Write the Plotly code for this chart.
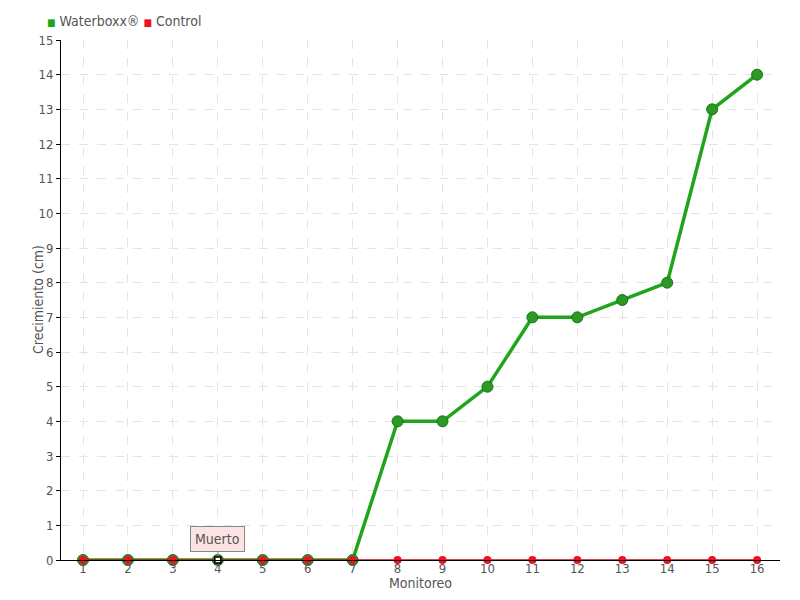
import plotly.graph_objects as go

monitoreo = list(range(1, 17))
waterboxx = [0, 0, 0, 0, 0, 0, 0, 4, 4, 5, 7, 7, 7.5, 8, 13, 14]
control = [0] * 16
y_ticks = list(range(0, 16))

FONT = "DejaVu Sans Condensed, Liberation Sans Narrow, sans-serif"
GRAY = "#555555"
GREEN = "#1fa51a"
RED = "#ee1122"

fig = go.Figure()
fig.add_trace(go.Scatter(
    x=monitoreo, y=waterboxx, mode="lines+markers", name="Waterboxx®",
    line=dict(color=GREEN, width=3.5),
    marker=dict(color="#2a9a24", size=11, line=dict(color="#1d6e1a", width=1)),
    cliponaxis=False, showlegend=False))
fig.add_trace(go.Scatter(
    x=monitoreo, y=control, mode="lines+markers", name="Control",
    line=dict(color="#c8081c", width=1.5),
    marker=dict(color=RED, size=8),
    cliponaxis=False, showlegend=False))
# marker for the "Muerto" point
fig.add_trace(go.Scatter(
    x=[monitoreo[3]], y=[control[3]], mode="markers",
    marker=dict(color="white", size=6, symbol="square", line=dict(color="black", width=1.5)),
    cliponaxis=False, showlegend=False, hoverinfo="skip"))

fig.add_annotation(x=monitoreo[3], y=control[3], text="Muerto", showarrow=True,
                   ax=0, ay=-21, arrowhead=0, arrowwidth=1, arrowcolor="#888888",
                   standoff=4, bgcolor="#fde4e4", bordercolor="#888888", borderwidth=1,
                   borderpad=4, font=dict(family=FONT, size=14, color=GRAY))

# legend as text
fig.add_annotation(xref="paper", yref="paper", x=-0.022, y=1.0, xanchor="left", yanchor="middle",
                   yshift=19, showarrow=False, align="left",
                   text=f"<span style='color:{GREEN};font-size:10px'>■</span> Waterboxx® "
                        f"<span style='color:{RED};font-size:10px'>■</span> Control",
                   font=dict(family=FONT, size=14, color=GRAY))
# axis titles
fig.add_annotation(xref="paper", yref="paper", x=0.5, y=0, xanchor="center", yanchor="middle",
                   yshift=-23, showarrow=False, text="Monitoreo",
                   font=dict(family=FONT, size=14, color=GRAY))
fig.add_annotation(xref="paper", yref="paper", x=0, y=0.5, xanchor="center", yanchor="middle",
                   xshift=-23, showarrow=False, text="Crecimiento (cm)", textangle=-90,
                   font=dict(family=FONT, size=14, color=GRAY))

fig.update_layout(
    width=792, height=592,
    margin=dict(l=53, r=20, t=32, b=40, autoexpand=False),
    paper_bgcolor="white", plot_bgcolor="white",
    font=dict(family=FONT, size=14, color=GRAY),
    showlegend=False,
    xaxis=dict(range=[0.51, 16.51], tickvals=monitoreo, ticktext=[str(v) for v in monitoreo],
               showgrid=True, gridcolor="#e4e4e4", griddash="dash", gridwidth=1,
               showline=True, linecolor="black", linewidth=1, zeroline=False,
               ticks="", tickfont=dict(size=13, color=GRAY), ticklabelstandoff=-4),
    yaxis=dict(range=[0, 15], tickvals=y_ticks,
               showgrid=True, gridcolor="#e4e4e4", griddash="dash", gridwidth=1,
               showline=True, linecolor="black", linewidth=1, zeroline=False,
               ticks="outside", ticklen=4, tickcolor="black",
               tickfont=dict(size=13, color=GRAY)),
)

fig.write_html("out.html")
